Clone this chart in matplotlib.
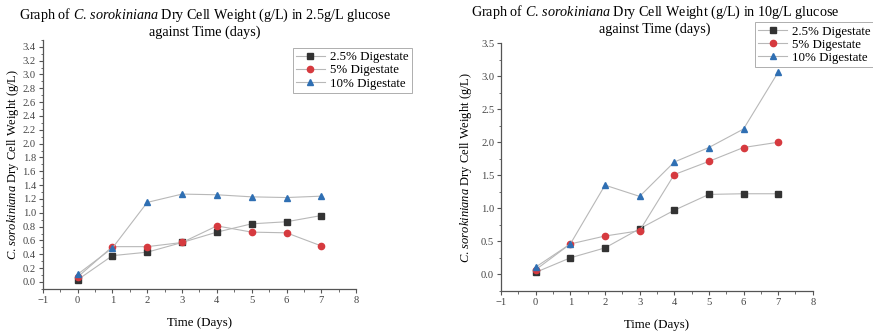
import matplotlib.pyplot as plt
from matplotlib.ticker import MultipleLocator

plt.rcParams['font.family'] = ['Liberation Serif', 'DejaVu Serif']
plt.rcParams['mathtext.fontset'] = 'custom'
plt.rcParams['mathtext.it'] = 'Liberation Serif:italic'
plt.rcParams['mathtext.rm'] = 'Liberation Serif'

days = [0, 1, 2, 3, 4, 5, 6, 7]
series_names = ['2.5% Digestate', '5% Digestate', '10% Digestate']

# 2.5 g/L glucose
low_25 = [0.03, 0.38, 0.43, 0.57, 0.72, 0.84, 0.87, 0.96]
low_5 = [0.07, 0.51, 0.51, 0.57, 0.81, 0.72, 0.71, 0.52]
low_10 = [0.11, 0.49, 1.15, 1.27, 1.26, 1.23, 1.22, 1.24]

# 10 g/L glucose
high_25 = [0.03, 0.25, 0.40, 0.69, 0.97, 1.21, 1.22, 1.22]
high_5 = [0.07, 0.46, 0.58, 0.66, 1.51, 1.71, 1.92, 2.00]
high_10 = [0.11, 0.46, 1.35, 1.18, 1.70, 1.92, 2.20, 3.06]

colors = ['#333333', '#d63a3f', '#2f6fb3']
markers = ['s', 'o', '^']
ylab = r'$\it{C.\,sorokiniana}$ Dry Cell Weight (g/L)'

fig = plt.figure(figsize=(8.73, 3.32), dpi=100)
ax1 = fig.add_axes([0.049, 0.130, 0.359, 0.750])
ax2 = fig.add_axes([0.574, 0.124, 0.357, 0.746])


def style(ax):
    for s in ['top', 'right']:
        ax.spines[s].set_visible(False)
    for s in ['left', 'bottom']:
        ax.spines[s].set_color('#555555')
        ax.spines[s].set_linewidth(0.9)
    ax.tick_params(which='major', direction='out', length=3, width=0.8,
                   labelsize=7.6, colors='#555555', labelcolor='#444444', pad=2)
    ax.tick_params(which='minor', direction='out', length=1.8, width=0.6, colors='#555555')
    ax.set_xlim(-1, 8)
    ax.xaxis.set_major_locator(MultipleLocator(1))
    ax.xaxis.set_minor_locator(MultipleLocator(0.5))
    ax.set_xlabel('Time (Days)', fontsize=9.3, labelpad=9)


def add_legend(ax, x, y):
    leg = ax.legend(loc='upper left', bbox_to_anchor=(x, y), bbox_transform=fig.transFigure,
                    fontsize=9.3, frameon=True, fancybox=False, edgecolor='#999999',
                    borderpad=0.25, handlelength=2.2, handletextpad=0.4,
                    labelspacing=0.08, borderaxespad=0)
    leg.get_frame().set_linewidth(0.7)
    return leg


def add_title(x, y1, y2, conc):
    fig.text(x, y1, r'Graph of $\it{C.\,sorokiniana}$ Dry Cell Weight (g/L) in ' + conc + ' glucose',
             ha='center', va='center', fontsize=10.2)
    fig.text(x, y2, 'against Time (days)', ha='center', va='center', fontsize=10.2)


for ax, data in [(ax1, [low_25, low_5, low_10]), (ax2, [high_25, high_5, high_10])]:
    for vals, name, c, m in zip(data, series_names, colors, markers):
        ax.plot(days, vals, color='#b8b8b8', lw=0.8, marker=m, markersize=4.5,
                markerfacecolor=c, markeredgecolor=c, label=name)
    style(ax)

ax1.set_ylim(-0.1, 3.5)
ax1.yaxis.set_minor_locator(MultipleLocator(0.1))
ax1.set_yticks([i * 0.2 for i in range(18)])
ax1.set_yticklabels([f'{i * 0.2:.1f}' for i in range(18)])
ax1.set_ylabel(ylab, fontsize=9, labelpad=1)
add_title(0.235, 1 - 15 / 332, 1 - 32 / 332, '2.5g/L')
add_legend(ax1, 0.3356, 0.855)

ax2.set_ylim(-0.25, 3.5)
ax2.yaxis.set_minor_locator(MultipleLocator(0.25))
ax2.set_yticks([i * 0.5 for i in range(8)])
ax2.set_yticklabels([f'{i * 0.5:.1f}' for i in range(8)])
ax2.set_ylabel(ylab, fontsize=9, labelpad=5)
add_title(0.750, 1 - 12 / 332, 1 - 29 / 332, '10g/L')
add_legend(ax2, 0.865, 0.933)

fig.savefig('out.png', dpi=100)
